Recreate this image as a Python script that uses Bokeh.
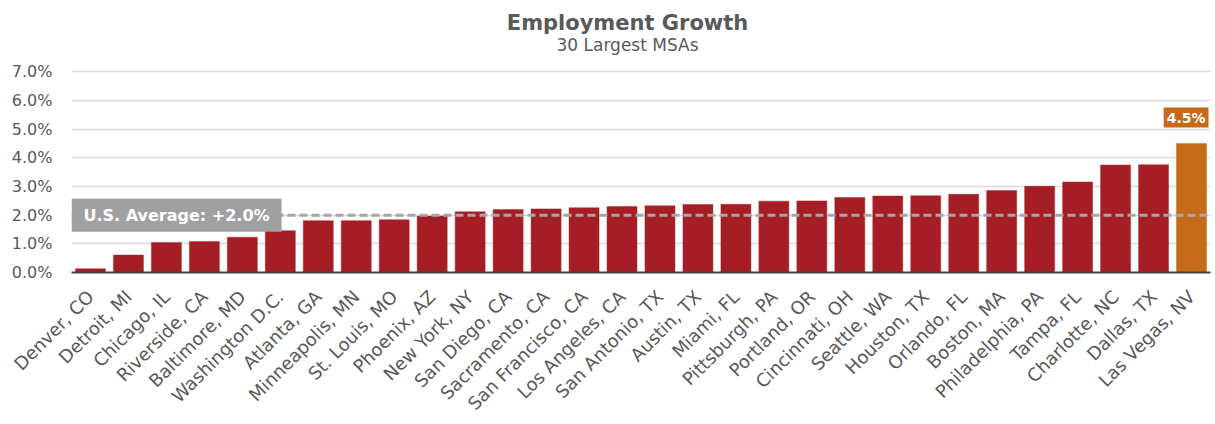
import math
from bokeh.plotting import figure
from bokeh.models import (FactorRange, Range1d, FixedTicker, PrintfTickFormatter,
                          Span, Label, ColumnDataSource)
from bokeh.embed import file_html
from bokeh.resources import INLINE

# ---- data ----
cities = ["Denver, CO", "Detroit, MI", "Chicago, IL", "Riverside, CA", "Baltimore, MD",
          "Washington D.C.", "Atlanta, GA", "Minneapolis, MN", "St. Louis, MO", "Phoenix, AZ",
          "New York, NY", "San Diego, CA", "Sacramento, CA", "San Francisco, CA", "Los Angeles, CA",
          "San Antonio, TX", "Austin, TX", "Miami, FL", "Pittsburgh, PA", "Portland, OR",
          "Cincinnati, OH", "Seattle, WA", "Houston, TX", "Orlando, FL", "Boston, MA",
          "Philadelphia, PA", "Tampa, FL", "Charlotte, NC", "Dallas, TX", "Las Vegas, NV"]
growth = [0.13, 0.61, 1.05, 1.08, 1.23,
          1.46, 1.81, 1.81, 1.84, 1.97,
          2.12, 2.20, 2.22, 2.26, 2.30,
          2.33, 2.37, 2.38, 2.49, 2.50,
          2.62, 2.67, 2.68, 2.73, 2.86,
          3.01, 3.16, 3.75, 3.76, 4.50]
highlight = "Las Vegas, NV"
us_average = 2.0
y_ticks = [0, 1, 2, 3, 4, 5, 6, 7]
title_text = "Employment Growth"
subtitle_text = "30 Largest MSAs"

FONT = "DejaVu Sans"
TEXT_COLOR = "#595959"
BAR_COLOR = "#A61E25"
HI_COLOR = "#C56A18"

# layout: the frame reaches the top of the canvas so the titles can sit inside it
W, H = 1215, 424
B_LEFT, B_RIGHT, B_BOTTOM = 71, 5, 150
GRID_TOP_PX = 72                      # pixel row of the 7.0% gridline
Y_MAX = 7
frame_h = H - B_BOTTOM
frame_w = W - B_LEFT - B_RIGHT
unit_y = Y_MAX / (frame_h - GRID_TOP_PX)   # data units per pixel (vertical)
unit_x = len(cities) / frame_w             # factor units per pixel (horizontal)
y_top = frame_h * unit_y

colors = [HI_COLOR if c == highlight else BAR_COLOR for c in cities]
src = ColumnDataSource(dict(city=cities, growth=growth, color=colors))

p = figure(width=W, height=H, x_range=FactorRange(factors=cities),
           y_range=Range1d(0, y_top), output_backend="svg", toolbar_location=None,
           min_border_left=B_LEFT, min_border_right=B_RIGHT,
           min_border_top=0, min_border_bottom=B_BOTTOM)
p.outline_line_color = None
p.background_fill_color = "white"
p.border_fill_color = "white"

p.vbar(x="city", top="growth", width=0.79, source=src, fill_color="color",
       line_color="color", line_alpha=0.45, line_width=1)

# average line
p.add_layout(Span(location=us_average, dimension="width", line_color="#A6A6A6",
                  line_width=3, line_dash="8 4"))

# titles
title_cx = (627 - B_LEFT) * unit_x
p.add_layout(Label(x=title_cx, y=(frame_h - 23) * unit_y, text=title_text,
                   text_font=FONT, text_font_size="21px", text_font_style="bold",
                   text_color=TEXT_COLOR, text_align="center", text_baseline="alphabetic"))
p.add_layout(Label(x=title_cx, y=(frame_h - 45) * unit_y, text=subtitle_text,
                   text_font=FONT, text_font_size="17px", text_font_style="normal",
                   text_color=TEXT_COLOR, text_align="center", text_baseline="alphabetic"))

# axes
p.xaxis.major_label_orientation = math.pi / 4
p.xaxis.major_label_text_font = FONT
p.xaxis.major_label_text_font_size = "18px"
p.xaxis.major_label_text_color = TEXT_COLOR
p.xaxis.major_tick_line_color = None
p.xaxis.minor_tick_line_color = None
p.xaxis.axis_line_color = "#404040"
p.xaxis.axis_line_width = 2
p.xaxis.major_label_standoff = 15

p.yaxis.ticker = FixedTicker(ticks=y_ticks)
p.yaxis.formatter = PrintfTickFormatter(format="%.1f%%")
p.yaxis.major_label_text_font = FONT
p.yaxis.major_label_text_font_size = "16px"
p.yaxis.major_label_text_color = TEXT_COLOR
p.yaxis.axis_line_color = None
p.yaxis.major_tick_line_color = None
p.yaxis.minor_tick_line_color = None
p.yaxis.major_label_standoff = 13

p.xgrid.grid_line_color = None
p.ygrid.grid_line_color = "#D9D9D9"
p.ygrid.grid_line_width = 1.5

# annotations
p.add_layout(Label(x=0, y=us_average, text="U.S. Average: +%.1f%%" % us_average,
                   text_font=FONT, text_font_style="bold", text_font_size="16px",
                   text_color="white", text_align="left", text_baseline="middle",
                   background_fill_color="#A0A0A2", padding=dict(x=12, y=7), x_offset=0))
idx = cities.index(highlight)
p.add_layout(Label(x=idx + 1, y=growth[idx], text="%.1f%%" % growth[idx],
                   text_font=FONT, text_font_style="bold", text_font_size="14px",
                   text_color="white", text_align="right", text_baseline="bottom",
                   background_fill_color=HI_COLOR, padding=dict(x=3, y=2),
                   x_offset=-2, y_offset=16))

open("out.html", "w").write(file_html(p, INLINE))
